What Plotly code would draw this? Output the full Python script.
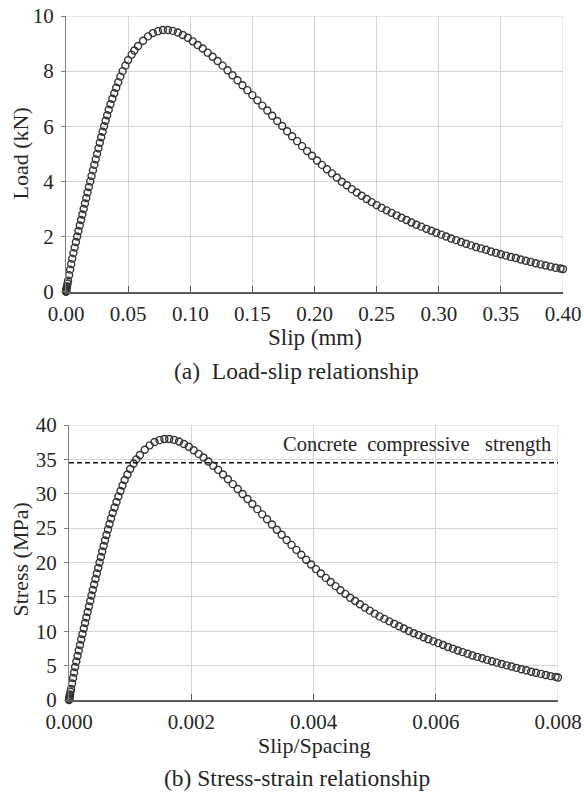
import plotly.graph_objects as go

# ---------------- data ----------------
# (a) Load-slip
slip_mm = [
    0.0, 0.0001, 0.0002, 0.0004, 0.0006, 0.00083, 0.00125, 0.00167,
    0.0025, 0.00333, 0.00417, 0.005, 0.006, 0.007, 0.008, 0.009, 0.010,
    0.01105, 0.0121, 0.01316, 0.01421, 0.01526, 0.01632, 0.01737, 0.01842,
    0.01947, 0.02056, 0.02167, 0.02278, 0.02389, 0.025, 0.02611, 0.02722,
    0.02833, 0.02944, 0.03063, 0.03188, 0.03313, 0.03438, 0.03577, 0.03731,
    0.03885, 0.04042, 0.04208, 0.04375, 0.04556, 0.04778, 0.05, 0.05286,
    0.055, 0.058, 0.062, 0.066, 0.070, 0.074, 0.078, 0.082,
    0.086, 0.090, 0.094, 0.098, 0.102, 0.106, 0.110, 0.114, 0.118, 0.122,
    0.126, 0.130, 0.134, 0.138, 0.142, 0.146, 0.150, 0.154, 0.158, 0.162,
    0.166, 0.170, 0.174, 0.178, 0.182, 0.186, 0.190, 0.194, 0.198, 0.202,
    0.206, 0.210, 0.214, 0.218, 0.222, 0.226, 0.230, 0.234, 0.238, 0.242,
    0.246, 0.250, 0.254, 0.258, 0.262, 0.266, 0.270, 0.274, 0.278, 0.282,
    0.286, 0.290, 0.294, 0.298, 0.302, 0.306, 0.310, 0.314, 0.318, 0.322,
    0.326, 0.330, 0.334, 0.338, 0.342, 0.346, 0.350, 0.354, 0.358, 0.362,
    0.366, 0.370, 0.374, 0.378, 0.382, 0.386, 0.390, 0.394, 0.398, 0.400,
]
load_kN = [
    0.0, 0.02, 0.05, 0.1, 0.15, 0.2, 0.3, 0.4,
    0.6, 0.8, 1.0, 1.2, 1.4, 1.6, 1.8, 2.0, 2.2,
    2.4, 2.6, 2.8, 3.0, 3.2, 3.4, 3.6, 3.8,
    4.0, 4.2, 4.4, 4.6, 4.8, 5.0, 5.2, 5.4,
    5.6, 5.8, 6.0, 6.2, 6.4, 6.6, 6.8, 7.0,
    7.2, 7.4, 7.6, 7.8, 8.0, 8.2, 8.4, 8.6,
    8.75, 8.91, 9.10, 9.26, 9.38, 9.45, 9.49, 9.49,
    9.46, 9.40, 9.31, 9.21, 9.08, 8.95, 8.82, 8.67, 8.52, 8.37,
    8.20, 8.03, 7.85, 7.67, 7.49, 7.31, 7.13, 6.94, 6.75, 6.57,
    6.38, 6.19, 6.01, 5.82, 5.64, 5.46, 5.28, 5.10, 4.93, 4.76,
    4.60, 4.44, 4.29, 4.14, 3.99, 3.86, 3.72, 3.60, 3.48, 3.36,
    3.25, 3.14, 3.04, 2.95, 2.86, 2.77, 2.68, 2.60, 2.51, 2.43,
    2.36, 2.28, 2.21, 2.14, 2.07, 2.00, 1.93, 1.87, 1.80, 1.74,
    1.68, 1.62, 1.57, 1.52, 1.46, 1.41, 1.36, 1.31, 1.26, 1.22,
    1.17, 1.12, 1.08, 1.03, 0.99, 0.95, 0.91, 0.87, 0.84, 0.82,
]

# (b) Stress-strain
strain = [
    0.0, 0.000002, 0.000004, 0.000008, 0.000012, 0.0000166, 0.000025, 0.0000334,
    0.00005, 0.0000666, 0.0000834, 0.0001, 0.00012, 0.00014, 0.00016, 0.00018, 0.0002,
    0.000221, 0.000242, 0.000263, 0.000284, 0.000305, 0.000326, 0.000347, 0.000368,
    0.000389, 0.000411, 0.000433, 0.000456, 0.000478, 0.0005, 0.000522, 0.000544,
    0.000567, 0.000589, 0.000613, 0.000638, 0.000663, 0.000688, 0.000715, 0.000746,
    0.000777, 0.000808, 0.000842, 0.000875, 0.000911, 0.000956, 0.001, 0.001057,
    0.0011, 0.00116, 0.00124, 0.00132, 0.0014, 0.00148, 0.00156, 0.00164,
    0.00172, 0.00180, 0.00188, 0.00196, 0.00204, 0.00212, 0.00220, 0.00228, 0.00236, 0.00244,
    0.00252, 0.00260, 0.00268, 0.00276, 0.00284, 0.00292, 0.00300, 0.00308, 0.00316, 0.00324,
    0.00332, 0.00340, 0.00348, 0.00356, 0.00364, 0.00372, 0.00380, 0.00388, 0.00396, 0.00404,
    0.00412, 0.00420, 0.00428, 0.00436, 0.00444, 0.00452, 0.00460, 0.00468, 0.00476, 0.00484,
    0.00492, 0.00500, 0.00508, 0.00516, 0.00524, 0.00532, 0.00540, 0.00548, 0.00556, 0.00564,
    0.00572, 0.00580, 0.00588, 0.00596, 0.00604, 0.00612, 0.00620, 0.00628, 0.00636, 0.00644,
    0.00652, 0.00660, 0.00668, 0.00676, 0.00684, 0.00692, 0.00700, 0.00708, 0.00716, 0.00724,
    0.00732, 0.00740, 0.00748, 0.00756, 0.00764, 0.00772, 0.00780, 0.00788, 0.00796, 0.00800,
]
stress_MPa = [
    0.0, 0.08, 0.2, 0.4, 0.6, 0.8, 1.2, 1.6,
    2.4, 3.2, 4.0, 4.8, 5.6, 6.4, 7.2, 8.0, 8.8,
    9.6, 10.4, 11.2, 12.0, 12.8, 13.6, 14.4, 15.2,
    16.0, 16.8, 17.6, 18.4, 19.2, 20.0, 20.8, 21.6,
    22.4, 23.2, 24.0, 24.8, 25.6, 26.4, 27.2, 28.0,
    28.8, 29.6, 30.4, 31.2, 32.0, 32.8, 33.6, 34.4,
    35.0, 35.64, 36.4, 37.04, 37.52, 37.8, 37.96, 37.96,
    37.84, 37.60, 37.24, 36.84, 36.32, 35.80, 35.28, 34.68, 34.08, 33.48,
    32.80, 32.12, 31.40, 30.68, 29.96, 29.24, 28.52, 27.76, 27.00, 26.28,
    25.52, 24.76, 24.04, 23.28, 22.56, 21.84, 21.12, 20.40, 19.72, 19.04,
    18.40, 17.76, 17.16, 16.56, 15.96, 15.44, 14.88, 14.40, 13.92, 13.44,
    13.00, 12.56, 12.16, 11.80, 11.44, 11.08, 10.72, 10.40, 10.04, 9.72,
    9.44, 9.12, 8.84, 8.56, 8.28, 8.00, 7.72, 7.48, 7.20, 6.96,
    6.72, 6.48, 6.28, 6.08, 5.84, 5.64, 5.44, 5.24, 5.04, 4.88,
    4.68, 4.48, 4.32, 4.12, 3.96, 3.80, 3.64, 3.48, 3.36, 3.28,
]

concrete_strength = 34.5
strength_label = "Concrete\u00a0\u00a0compressive\u00a0\u00a0\u00a0strength"

# ---------------- figure ----------------
W, H = 584, 799
FONT = "Liberation Serif"
TXT = "#262626"
GRID = "#d4d4d4"
MARK = "#333333"


def px(x):
    return x / W


def py(y):
    return 1 - y / H


fig = go.Figure()

marker = dict(symbol="circle-open", size=7, color=MARK, line=dict(width=1.4, color=MARK))

fig.add_trace(go.Scatter(x=slip_mm, y=load_kN, mode="markers", marker=marker,
                         xaxis="x", yaxis="y", cliponaxis=False, showlegend=False))
fig.add_trace(go.Scatter(x=strain, y=stress_MPa, mode="markers", marker=marker,
                         xaxis="x2", yaxis="y2", cliponaxis=False, showlegend=False))

# dashed strength line
fig.add_trace(go.Scatter(x=[0, 0.008], y=[concrete_strength, concrete_strength],
                         mode="lines", line=dict(color="#111111", width=1.5, dash="5px,3px"),
                         xaxis="x2", yaxis="y2", showlegend=False))

common_x = dict(showgrid=True, gridcolor=GRID, gridwidth=1, zeroline=False,
                showline=True, linecolor="#595959", linewidth=1.6, automargin=False,
                ticks="inside", ticklen=6, tickcolor="#595959", tickwidth=1.3,
                ticklabeloverflow="allow", ticklabelstandoff=2,
                tickfont=dict(family=FONT, size=21, color=TXT))
common_y = dict(showgrid=True, gridcolor=GRID, gridwidth=1, zeroline=False,
                showline=True, linecolor="#808080", linewidth=1.3, automargin=False,
                ticks="outside", ticklen=4, tickcolor="#808080", tickwidth=1.2,
                ticklabelstandoff=3, ticklabeloverflow="allow",
                tickfont=dict(family=FONT, size=21, color=TXT))

fig.update_layout(
    width=W, height=H,
    margin=dict(l=0, r=0, t=0, b=0, autoexpand=False),
    paper_bgcolor="white", plot_bgcolor="white",
    xaxis=dict(common_x, domain=[px(66), px(563)], range=[0, 0.40], dtick=0.05,
               tick0=0, tickformat=".2f", anchor="y"),
    yaxis=dict(common_y, domain=[py(291.7), py(16)], range=[0, 10], dtick=2,
               tick0=0, anchor="x"),
    xaxis2=dict(common_x, domain=[px(69), px(558)], range=[0, 0.008], dtick=0.002,
                tick0=0, tickformat=".3f", anchor="y2"),
    yaxis2=dict(common_y, domain=[py(700), py(425)], range=[0, 40], dtick=5,
                tick0=0, anchor="x2"),
)

# light frame lines on the top and right edges (as in the reference grid)
for xr, yr, x1, y1 in [("x", "y", 0.40, 10), ("x2", "y2", 0.008, 40)]:
    fig.add_shape(type="line", xref=xr, yref=yr, x0=0, x1=x1, y0=y1, y1=y1,
                  line=dict(color=GRID, width=1), layer="below")
    fig.add_shape(type="line", xref=xr, yref=yr, x0=x1, x1=x1, y0=0, y1=y1,
                  line=dict(color=GRID, width=1), layer="below")

ann_font = dict(family=FONT, size=23, color=TXT)
xt_font = dict(family=FONT, size=22, color=TXT)
yt_font = dict(family=FONT, size=22, color=TXT)
cap_font = dict(family=FONT, size=23.5, color=TXT)
annotations = [
    dict(text="Slip (mm)", x=px(314.5), y=py(337), font=ann_font),
    dict(text="(a)\u00a0\u00a0Load-slip relationship", x=px(296), y=py(371), font=cap_font),
    dict(text="Load (kN)", x=px(19.5), y=py(154), textangle=-90, font=yt_font),
    dict(text="Stress (MPa)", x=px(19.5), y=py(560), textangle=-90, font=yt_font),
    dict(text="Slip/Spacing", x=px(313.5), y=py(745), font=xt_font),
    dict(text="(b) Stress-strain relationship", x=px(297), y=py(778), font=cap_font),
]
for a in annotations:
    fig.add_annotation(xref="paper", yref="paper", showarrow=False,
                       xanchor="center", yanchor="middle", **a)

fig.add_annotation(text=strength_label, xref="x2", yref="y2", x=0.008, y=37.2,
                   xanchor="right", yanchor="middle", xshift=-5, showarrow=False,
                   font=dict(family=FONT, size=20.5, color=TXT))

# place the figure flush with the page corner (no default body margin / scrollbars)
fig.write_html(
    "out.html",
    config={"displayModeBar": False},
    post_script="document.body.style.margin='0';"
                "document.documentElement.style.overflow='hidden';",
)
